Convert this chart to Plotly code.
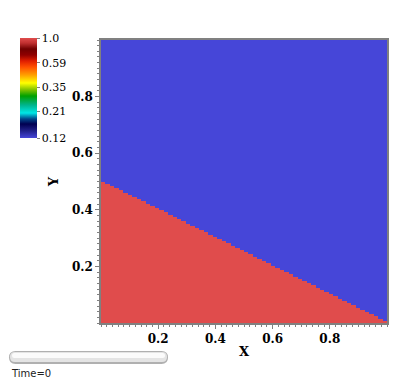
import numpy as np
import plotly.graph_objects as go

# field at Time=0 sampled on a 64 x 128 cell grid over the unit square
n_cols = 64
n_rows = 128
# red cells (value 1.0) counted from the bottom of each column, left to right
red_cells_per_column = [
    64, 63, 62, 61, 60, 59, 58, 57, 56, 55, 54, 53, 52, 51, 50, 49,
    48, 47, 46, 45, 44, 43, 42, 41, 40, 39, 38, 37, 36, 35, 34, 33,
    32, 31, 30, 29, 28, 27, 26, 25, 24, 23, 22, 21, 20, 19, 18, 17,
    16, 15, 14, 13, 12, 11, 10, 9, 8, 7, 6, 5, 4, 3, 2, 1,
]
inside_value = 1.0
outside_value = 0.12

colorbar_ticks = [0.12, 0.21, 0.35, 0.59, 1.0]
colorbar_labels = ["0.12", "0.21", "0.35", "0.59", "1.0"]
axis_ticks = [0.2, 0.4, 0.6, 0.8]

# build the grid from the column counts
z = np.full((n_rows, n_cols), outside_value)
for j, n in enumerate(red_cells_per_column):
    z[:n, j] = inside_value

# rainbow-like scale with dark bands, on a log axis
colorscale = [
    [0.00, "#4646d8"], [0.07, "#22228c"], [0.14, "#000050"], [0.19, "#00468a"],
    [0.25, "#00e6e6"], [0.33, "#00b48c"], [0.42, "#00a000"], [0.48, "#7cc000"],
    [0.55, "#ffff00"], [0.63, "#ffa000"], [0.71, "#ff5000"], [0.77, "#e01e00"],
    [0.83, "#900000"], [0.89, "#700000"], [0.95, "#c03030"], [1.00, "#e04c4c"],
]

# the page body adds an 8px margin, so work in window pixels minus that
OFF = 8
W, H = 407 - OFF, 382 - OFF
L, R, T, B = 101 - OFF, 20, 40 - OFF, 59
pw, ph = W - L - R, H - T - B


def px(x):
    return (x - OFF - L) / pw


def py(y):
    return (H - B - (y - OFF)) / ph


def bar_path(x0, x1, y0, y1):
    # rounded bar in window pixels -> paper coords
    r = (y1 - y0) / 2
    pts = (
        f"M {px(x0 + r)},{py(y0)} L {px(x1 - r)},{py(y0)} "
        f"Q {px(x1)},{py(y0)} {px(x1)},{py(y0 + r)} "
        f"Q {px(x1)},{py(y1)} {px(x1 - r)},{py(y1)} "
        f"L {px(x0 + r)},{py(y1)} "
        f"Q {px(x0)},{py(y1)} {px(x0)},{py(y0 + r)} "
        f"Q {px(x0)},{py(y0)} {px(x0 + r)},{py(y0)} Z"
    )
    return pts


fig = go.Figure()

fig.add_trace(go.Heatmap(
    z=np.log10(z),
    x0=0.5 / n_cols, dx=1 / n_cols,
    y0=0.5 / n_rows, dy=1 / n_rows,
    zmin=np.log10(outside_value), zmax=np.log10(inside_value),
    colorscale=colorscale,
    colorbar=dict(
        x=px(20), xanchor="left", xpad=0,
        y=py(88), yanchor="middle", ypad=0,
        thickness=17, len=100, lenmode="pixels",
        outlinewidth=0,
        tickvals=np.log10(colorbar_ticks),
        ticktext=colorbar_labels,
        ticks="outside", ticklen=3, tickcolor="#808080",
        tickfont=dict(family="DejaVu Serif", size=11, color="black"),
    ),
    hoverinfo="skip",
))

axis_style = dict(
    range=[0, 1],
    showgrid=False, zeroline=False,
    showline=True, mirror=True, linecolor="#808080", linewidth=1.5,
    ticks="outside", ticklen=4, tickcolor="#808080",
    tickvals=axis_ticks, tickformat=".1f",
    tickfont=dict(family="DejaVu Serif", size=12, weight="bold", color="black"),
    minor=dict(dtick=0.02, ticks="outside", ticklen=2, tickcolor="#808080", showgrid=False),
)

# slider bar under the plot (can't start left of the body margin)
bar_left, bar_right = OFF + 1, 168

fig.update_layout(
    width=W, height=H,
    margin=dict(l=L, r=R, t=T, b=B),
    paper_bgcolor="white", plot_bgcolor="white",
    xaxis=dict(axis_style, title=dict(text="X", standoff=2,
               font=dict(family="DejaVu Serif", size=13, weight="bold", color="black"))),
    yaxis=dict(axis_style, title=dict(text="Y", standoff=10,
               font=dict(family="DejaVu Serif", size=13, weight="bold", color="black"))),
    shapes=[
        dict(type="path", xref="paper", yref="paper",
             path=bar_path(bar_left, bar_right, 351, 364),
             fillcolor="#b0b0b0", line=dict(width=0), layer="above"),
        dict(type="path", xref="paper", yref="paper",
             path=bar_path(bar_left + 1, bar_right - 1, 352, 362),
             fillcolor="#e4e4e4", line=dict(width=0), layer="above"),
        dict(type="path", xref="paper", yref="paper",
             path=bar_path(bar_left + 3, bar_right - 3, 353, 358),
             fillcolor="#fbfbfb", line=dict(width=0), layer="above"),
    ],
    annotations=[
        dict(text="Time=0", xref="paper", yref="paper", x=px(OFF + 1), y=py(373),
             xanchor="left", yanchor="middle", showarrow=False,
             font=dict(family="DejaVu Sans", size=10, color="#222222")),
    ],
)

fig.write_html("out.html")
